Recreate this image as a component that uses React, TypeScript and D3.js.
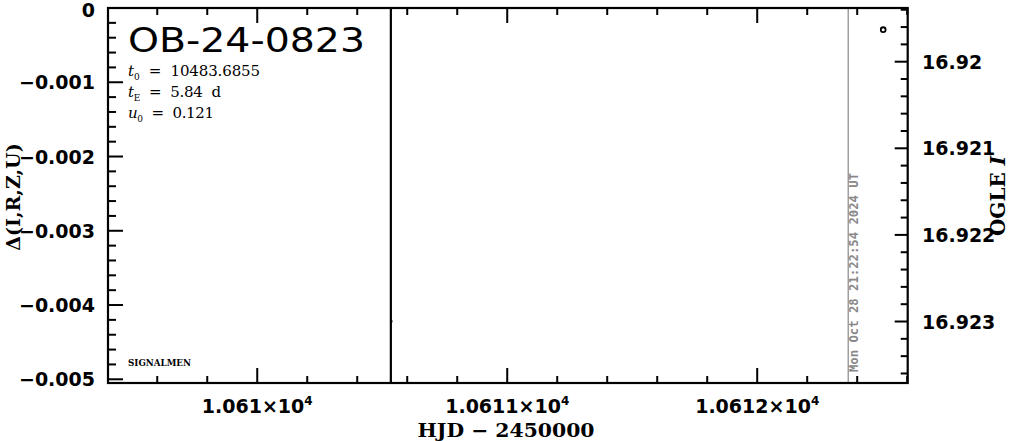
import React from "react";
import * as d3 from "d3";

const title = "OB-24-0823";
const params = [
  { sym: "t", sub: "0", val: "=  10483.6855", width: 132 },
  { sym: "t", sub: "E", val: "=  5.84  d", width: 93 },
  { sym: "u", sub: "0", val: "=  0.121", width: 86 },
];
const xDomain = [10609.403, 10612.602];
const leftDomain = [0, -0.00505];
const rightDomain = [16.91938, 16.92371];
const xMajorTicks = [10610, 10611, 10612];
const xTickLabels = ["1.061", "1.0611", "1.0612"];
const leftMajorTicks = [0, -0.001, -0.002, -0.003, -0.004, -0.005];
const leftTickLabels = ["0", "\u22120.001", "\u22120.002", "\u22120.003", "\u22120.004", "\u22120.005"];
const rightMajorTicks = [16.92, 16.921, 16.922, 16.923];
const rightTickLabels = ["16.92", "16.921", "16.922", "16.923"];
// model curve (effectively vertical within the window)
const modelHJD = [10610.5345, 10610.5345];
const modelDelta = [0.0005, -0.0056];
// residual point
const residHJD = [10610.541];
const residDelta = [-0.00422];
// OGLE data
const ogleHJD = [10612.504];
const ogleMag = [16.91963];
const stampHJD = 10612.364;
const stampText = "Mon Oct 28 21:22:54 2024 UT";

const W = 1011, H = 441;
const L = 108, R = 907.7, T = 8, B = 383;

export default function App() {
  const x = d3.scaleLinear().domain(xDomain).range([L, R]);
  const yL = d3.scaleLinear().domain(leftDomain).range([T, B]);
  const yR = d3.scaleLinear().domain(rightDomain).range([T, B]);

  const xMinor = d3.range(Math.ceil(xDomain[0] * 5), Math.floor(xDomain[1] * 5) + 1).map((v) => v / 5);
  const lMinor = d3.range(0, 26).map((i) => -i * 0.0002).filter((v) => v >= leftDomain[1]);
  const rMinor = d3.range(Math.ceil(rightDomain[0] * 5000), Math.floor(rightDomain[1] * 5000) + 1).map((v) => v / 5000);
  const isMajor = (v: number, step: number) => Math.abs(v / step - Math.round(v / step)) < 1e-6;

  const line = d3.line<number>().x((_, i) => x(modelHJD[i])).y((d) => yL(d));

  const sans = "'DejaVu Sans', sans-serif";
  const serif = "'DejaVu Serif', serif";

  return (
    <svg width={W} height={H} style={{ position: "absolute", left: 0, top: 0, background: "#fff" }}>
      <defs>
        <clipPath id="plot"><rect x={L} y={T} width={R - L} height={B - T} /></clipPath>
      </defs>
      <rect x={0} y={0} width={W} height={H} fill="#fff" />
      {/* timestamp line */}
      <line x1={x(stampHJD)} x2={x(stampHJD)} y1={T} y2={B} stroke="#888" strokeWidth={1.2} />
      <text transform={`translate(${x(stampHJD) + 10},372) rotate(-90)`} fontFamily="'DejaVu Sans Mono', monospace" fontWeight="bold" fontSize={11.5} fill="#888" textLength={199} lengthAdjust="spacingAndGlyphs">{stampText}</text>

      {/* ticks */}
      <g stroke="#000" strokeWidth={2}>
        {xMinor.map((v, i) => {
          const len = isMajor(v, 1) ? 15 : 7;
          return (
            <g key={"x" + i}>
              <line x1={x(v)} x2={x(v)} y1={B} y2={B - len} />
              <line x1={x(v)} x2={x(v)} y1={T} y2={T + len} />
            </g>
          );
        })}
        {lMinor.map((v, i) => {
          const len = isMajor(v, 0.001) ? 15 : 8;
          return <line key={"l" + i} x1={L} x2={L + len} y1={yL(v)} y2={yL(v)} />;
        })}
        {rMinor.map((v, i) => {
          const len = isMajor(v, 0.001) ? 13 : 7;
          return <line key={"r" + i} x1={R} x2={R - len} y1={yR(v)} y2={yR(v)} />;
        })}
      </g>

      {/* frame */}
      <rect x={L} y={T} width={R - L} height={B - T} fill="none" stroke="#000" strokeWidth={2.2} />

      {/* data */}
      <g clipPath="url(#plot)">
        <path d={line(modelDelta) || ""} fill="none" stroke="#000" strokeWidth={2.2} />
        {residHJD.map((h, i) => (
          <line key={"res" + i} x1={x(h) - 2} x2={x(h)} y1={yL(residDelta[i])} y2={yL(residDelta[i])} stroke="#000" strokeWidth={2} />
        ))}
        {ogleHJD.map((h, i) => (
          <circle key={"og" + i} cx={x(h)} cy={yR(ogleMag[i])} r={2.4} fill="none" stroke="#000" strokeWidth={1.8} />
        ))}
      </g>

      {/* left tick labels */}
      {leftMajorTicks.map((v, i) => (
        <text key={"ll" + i} x={95} y={Math.max(yL(v) + 7, 17)} textAnchor="end" fontFamily={sans} fontWeight="bold" fontSize={19}>{leftTickLabels[i]}</text>
      ))}
      {/* right tick labels */}
      {rightMajorTicks.map((v, i) => (
        <text key={"rl" + i} x={922} y={yR(v) + 7} fontFamily={sans} fontWeight="bold" fontSize={19}>{rightTickLabels[i]}</text>
      ))}
      {/* x tick labels */}
      {xMajorTicks.map((v, i) => (
        <text key={"xl" + i} x={x(v)} y={413} textAnchor="middle" fontFamily={sans} fontWeight="bold" fontSize={19}>
          {xTickLabels[i]}{"\u00d710"}<tspan fontSize={12} dy={-8}>4</tspan>
        </text>
      ))}

      {/* axis titles */}
      <text x={506} y={437} textAnchor="middle" fontFamily={serif} fontWeight="bold" fontSize={19} textLength={177} lengthAdjust="spacingAndGlyphs">HJD − 2450000</text>
      <text transform="translate(20,197) rotate(-90)" textAnchor="middle" fontFamily={serif} fontWeight="bold" fontSize={19}>Δ(I,R,Z,U)</text>
      <text transform="translate(1005,196) rotate(-90)" textAnchor="middle" fontFamily={serif} fontWeight="bold" fontSize={20}>OGLE <tspan fontStyle="italic">I</tspan></text>

      {/* title and params */}
      <text x={128} y={52} fontFamily={sans} fontSize={34} textLength={237} lengthAdjust="spacingAndGlyphs">{title}</text>
      {params.map((p, i) => (
        <text key={"p" + i} x={128} y={76 + i * 21} fontFamily={serif} fontSize={15} textLength={p.width} lengthAdjust="spacing" style={{ whiteSpace: "pre" }}>
          <tspan fontStyle="italic">{p.sym}</tspan>
          <tspan fontSize={9} dy={4}>{p.sub}</tspan>
          <tspan dy={-4}>{"  " + p.val}</tspan>
        </text>
      ))}
      <text x={128} y={366} fontFamily={serif} fontWeight="bold" fontSize={9} textLength={63} lengthAdjust="spacingAndGlyphs">SIGNALMEN</text>
    </svg>
  );
}
